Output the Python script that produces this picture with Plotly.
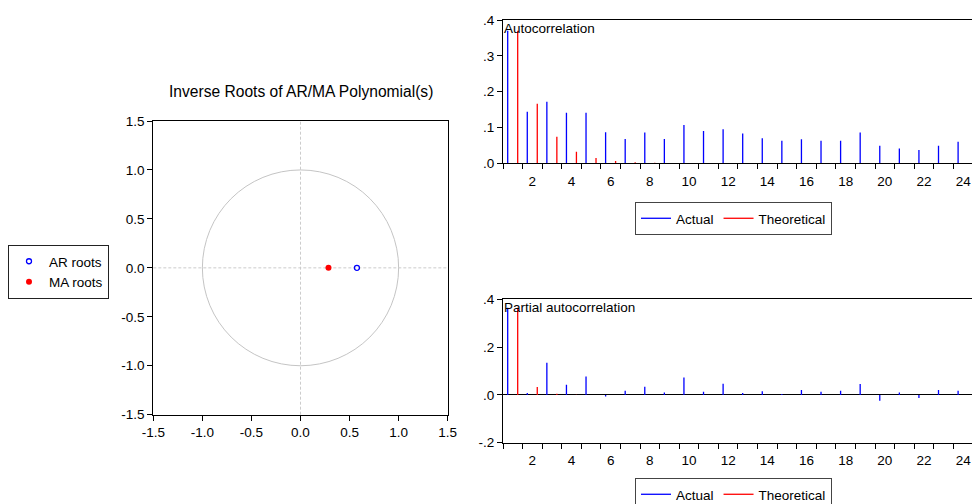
import plotly.graph_objects as go

# ---------------- data ----------------
ar_roots_re = [0.575]
ar_roots_im = [0.0]
ma_roots_re = [0.285]
ma_roots_im = [0.0]

lags = list(range(1, 25))
acf_actual = [0.370, 0.144, 0.172, 0.141, 0.141, 0.087, 0.068, 0.086, 0.068, 0.107,
              0.090, 0.095, 0.083, 0.070, 0.063, 0.067, 0.063, 0.063, 0.086, 0.049,
              0.041, 0.037, 0.049, 0.060]
acf_theoretical = [0.370, 0.166, 0.074, 0.032, 0.015, 0.0065, 0.003, 0.0013, 0.0006, 0.0003,
                   0.00012, 0.00005, 0.00002, 0.00001, 0.0, 0.0, 0.0, 0.0, 0.0, 0.0,
                   0.0, 0.0, 0.0, 0.0]
pacf_actual = [0.365, 0.008, 0.134, 0.042, 0.077, -0.007, 0.017, 0.034, 0.010, 0.073,
               0.013, 0.047, 0.008, 0.015, 0.004, 0.021, 0.013, 0.017, 0.046, -0.024,
               0.010, -0.013, 0.021, 0.017]
pacf_theoretical = [0.365, 0.033, 0.005, 0.001, 0.0002, 0.0, 0.0, 0.0, 0.0, 0.0,
                    0.0, 0.0, 0.0, 0.0, 0.0, 0.0, 0.0, 0.0, 0.0, 0.0,
                    0.0, 0.0, 0.0, 0.0]

root_ticks = [-1.5, -1.0, -0.5, 0.0, 0.5, 1.0, 1.5]
root_ticktext = ["-1.5", "-1.0", "-0.5", "0.0", "0.5", "1.0", "1.5"]
lag_ticks = [2, 4, 6, 8, 10, 12, 14, 16, 18, 20, 22, 24]
acf_yticks = [0.0, 0.1, 0.2, 0.3, 0.4]
acf_yticktext = [".0", ".1", ".2", ".3", ".4"]
pacf_yticks = [-0.2, 0.0, 0.2, 0.4]
pacf_yticktext = ["-.2", ".0", ".2", ".4"]

# ---------------- style ----------------
W, H = 972, 504
FONT = "Arial, 'Liberation Sans', sans-serif"
FS = 13.5
BLUE = "#0000ff"
RED = "#ff0000"
ACT_OFF = -0.26
THE_OFF = 0.25


def px(x):
    return x / W


def py(y):
    return 1 - y / H


def spikes(xs, ys, off):
    X, Y = [], []
    for x, y in zip(xs, ys):
        X += [x + off, x + off, None]
        Y += [0, y, None]
    return X, Y


fig = go.Figure()

# roots
fig.add_trace(go.Scatter(x=ar_roots_re, y=ar_roots_im, mode="markers", name="AR roots",
                         marker=dict(symbol="circle-open", size=5, color=BLUE, line=dict(width=1.3, color=BLUE)),
                         xaxis="x", yaxis="y", legend="legend"))
fig.add_trace(go.Scatter(x=ma_roots_re, y=ma_roots_im, mode="markers", name="MA roots",
                         marker=dict(symbol="circle", size=6, color=RED),
                         xaxis="x", yaxis="y", legend="legend"))

# ACF
x, y = spikes(lags, acf_actual, ACT_OFF)
fig.add_trace(go.Scatter(x=x, y=y, mode="lines", name="Actual", line=dict(color=BLUE, width=1.3),
                         xaxis="x2", yaxis="y2", legend="legend2"))
x, y = spikes(lags, acf_theoretical, THE_OFF)
fig.add_trace(go.Scatter(x=x, y=y, mode="lines", name="Theoretical", line=dict(color=RED, width=1.3),
                         xaxis="x2", yaxis="y2", legend="legend2"))

# PACF
x, y = spikes(lags, pacf_actual, ACT_OFF)
fig.add_trace(go.Scatter(x=x, y=y, mode="lines", name="Actual", line=dict(color=BLUE, width=1.3),
                         xaxis="x3", yaxis="y3", legend="legend3"))
x, y = spikes(lags, pacf_theoretical, THE_OFF)
fig.add_trace(go.Scatter(x=x, y=y, mode="lines", name="Theoretical", line=dict(color=RED, width=1.3),
                         xaxis="x3", yaxis="y3", legend="legend3"))

axis_common = dict(showgrid=False, zeroline=False, showline=True, linecolor="black", linewidth=1,
                   ticks="outside", tickcolor="black", ticklen=5, tickwidth=1,
                   tickfont=dict(family=FONT, size=FS, color="black"), fixedrange=True)

lag_axis = dict(axis_common, range=[0.5, 24.45], mirror=True, tickvals=lag_ticks,
                ticktext=[str(v) for v in lag_ticks], tickcolor="rgba(0,0,0,0)",
                minor=dict(ticks="outside", tick0=0.5, dtick=1, ticklen=5, tickcolor="black", tickwidth=1))

legend_font = dict(family=FONT, size=FS, color="black")

fig.update_layout(
    width=W, height=H,
    margin=dict(l=0, r=0, t=0, b=0, autoexpand=False),
    paper_bgcolor="white", plot_bgcolor="white",
    font=dict(family=FONT, size=FS, color="black"),
    xaxis=dict(axis_common, domain=[px(153.3), px(447.7)], range=[-1.5, 1.5], mirror=True,
               tickvals=root_ticks, ticktext=root_ticktext, anchor="y"),
    yaxis=dict(axis_common, domain=[py(414.7), py(121)], range=[-1.5, 1.5], mirror=True,
               tickvals=root_ticks, ticktext=root_ticktext, anchor="x"),
    xaxis2=dict(lag_axis, domain=[px(503), 1.0], anchor="y2"),
    yaxis2=dict(axis_common, domain=[py(163.3), py(20)], range=[0, 0.4],
                tickvals=acf_yticks, ticktext=acf_yticktext, anchor="x2"),
    xaxis3=dict(lag_axis, domain=[px(503), 1.0], anchor="y3"),
    yaxis3=dict(axis_common, domain=[py(442.7), py(299.3)], range=[-0.2, 0.4],
                tickvals=pacf_yticks, ticktext=pacf_yticktext, anchor="x3",
                zeroline=True, zerolinecolor="black", zerolinewidth=1),
    legend=dict(x=px(8), y=py(272), xanchor="left", yanchor="middle", orientation="v",
                bordercolor="#222", borderwidth=1, bgcolor="white", itemwidth=30,
                font=legend_font, tracegroupgap=0),
    legend2=dict(x=px(635), y=py(218.5), xanchor="left", yanchor="middle", orientation="h",
                 bordercolor="#444", borderwidth=1, bgcolor="white", itemwidth=30,
                 font=legend_font),
    legend3=dict(x=px(635), y=py(478), xanchor="left", yanchor="top", orientation="h",
                 bordercolor="#444", borderwidth=1, bgcolor="white", itemwidth=30,
                 font=legend_font),
    shapes=[
        dict(type="circle", xref="x", yref="y", x0=-1, y0=-1, x1=1, y1=1,
             line=dict(color="#c4c4c4", width=1), layer="below"),
        dict(type="line", xref="x", yref="y domain", x0=0, x1=0, y0=0, y1=1,
             line=dict(color="#cccccc", width=1, dash="3px,2px"), layer="below"),
        dict(type="line", xref="x domain", yref="y", x0=0, x1=1, y0=0, y1=0,
             line=dict(color="#cccccc", width=1, dash="3px,2px"), layer="below"),
    ],
    annotations=[
        dict(text="Inverse Roots of AR/MA Polynomial(s)", xref="paper", yref="paper",
             x=px(300.5), y=py(91), xanchor="center", yanchor="middle", showarrow=False,
             font=dict(family=FONT, size=15.6, color="black")),
        dict(text="Autocorrelation", xref="paper", yref="paper",
             x=px(502), y=py(28.5), xanchor="left", yanchor="middle", showarrow=False,
             font=dict(family=FONT, size=FS, color="black")),
        dict(text="Partial autocorrelation", xref="paper", yref="paper",
             x=px(502), y=py(307.5), xanchor="left", yanchor="middle", showarrow=False,
             font=dict(family=FONT, size=FS, color="black")),
    ],
    showlegend=True,
)

# remove the browser's default 8px body margin so the 972x504 figure fills the window exactly
fig.write_html("out.html",
               config={"displayModeBar": False, "staticPlot": False},
               post_script="document.body.style.margin='0';document.body.style.overflow='hidden';")
